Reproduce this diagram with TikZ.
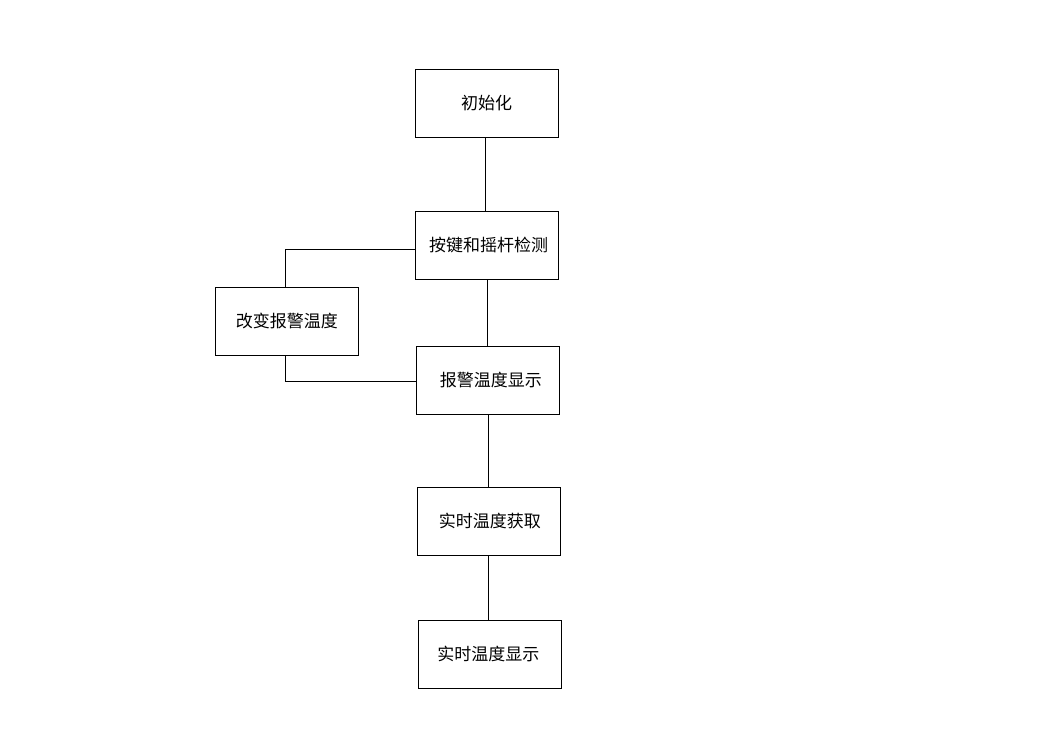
\documentclass[tikz,border=0pt]{standalone}
\usepackage{fontspec}
\newfontfamily\cjk{Noto Sans CJK SC}
\begin{document}
\begin{tikzpicture}[x=1pt,y=-1pt,
  stepbox/.style={draw=black,line width=1pt,minimum width=143pt,minimum height=68pt,inner sep=0pt,font=\cjk\fontsize{17}{18}\selectfont},
  link/.style={draw=black,line width=1pt}]
\useasboundingbox[fill=white] (0,0) rectangle (1044,750);
\node[stepbox] (b1) at (486.5,103) {初始化};
\node[stepbox] (b2) at (486.5,245) {\hspace{4pt}按键和摇杆检测};
\node[stepbox] (b3) at (286.8,321) {\raisebox{-1pt}{改变报警温度}};
\node[stepbox] (b4) at (487.8,380) {\hspace{6pt}\raisebox{-3pt}{报警温度显示}};
\node[stepbox] (b5) at (488.8,521.3) {\hspace{2pt}\raisebox{-2.5pt}{实时温度获取}};
\node[stepbox] (b6) at (489.8,654) {\hspace{-3pt}\raisebox{-2pt}{实时温度显示}};
\draw[link] ([xshift=-1pt]b1.south) -- ([xshift=-1pt]b1.south |- b2.north);
\draw[link] (b4.north) -- (b4.north |- b2.south);
\draw[link] (b5.north) -- (b5.north |- b4.south);
\draw[link] ([xshift=-1pt]b6.north) -- ([xshift=-1pt]b6.north |- b5.south);
\draw[link] ([yshift=-4pt]b2.west) -| ([xshift=-1pt]b3.north);
\draw[link] ([xshift=-1pt]b3.south) |- ([yshift=-1pt]b4.west);
\end{tikzpicture}
\end{document}
